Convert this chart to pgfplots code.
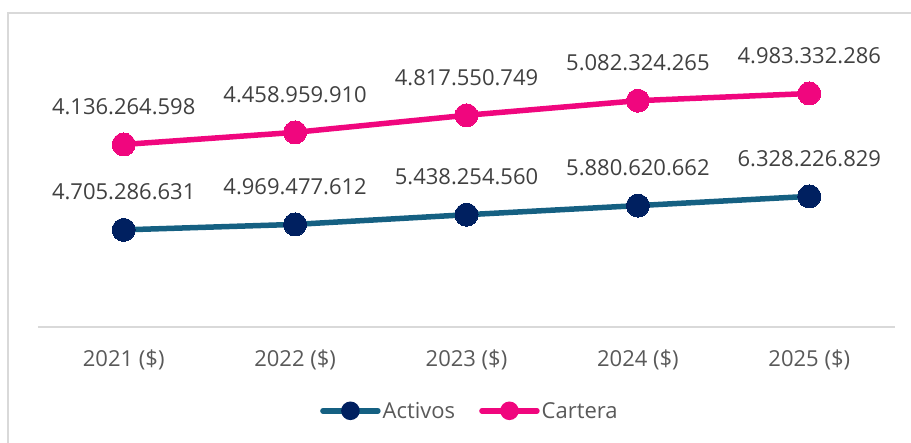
\documentclass[border=0pt]{standalone}
\usepackage{pgfplots}
\pgfplotsset{compat=1.18}
\usepackage{fontspec}
\setmainfont{Open Sans}
\definecolor{activosline}{HTML}{156082}
\definecolor{activosmark}{HTML}{002060}
\definecolor{cartera}{HTML}{F0067E}
\definecolor{lbl}{HTML}{404040}
\definecolor{axlbl}{HTML}{595959}
\definecolor{frame}{HTML}{D9D9D9}
\newcommand{\cf}{\fontsize{22}{26}\selectfont}
\begin{document}
\begin{tikzpicture}
\path[use as bounding box] (0pt,0pt) rectangle (911pt,443pt);
\draw[frame, line width=2pt] (8pt,0pt) -- (8pt,430pt) -- (911pt,430pt);
\begin{axis}[
  at={(38pt,116pt)}, anchor=south west,
  scale only axis, width=857pt, height=289pt,
  xmin=-0.5, xmax=4.5, ymin=0, ymax=14000000000,
  stack plots=y,
  clip=false,
  axis x line*=bottom, axis y line=none,
  x axis line style={frame, line width=1.5pt, -},
  xtick={0,1,2,3,4},
  xticklabels={2021 (\$),2022 (\$),2023 (\$),2024 (\$),2025 (\$)},
  major tick length=0pt,
  xticklabel style={font=\cf, text=axlbl, anchor=base, yshift=-40pt},
  point meta=explicit symbolic,
  nodes near coords,
  every node near coord/.append style={font=\cf, text=lbl, anchor=base, yshift=30pt},
  legend columns=2,
  legend style={draw=none, fill=none, at={(0.504,-0.29)}, anchor=center,
    font=\cf, text=axlbl, nodes={inner xsep=2pt},
    /tikz/every even column/.append style={column sep=22pt}},
  legend cell align=left,
]
\addplot[activosline, line width=5.5pt, mark=*, mark size=11.5pt,
  mark options={fill=activosmark, draw=activosmark, line width=0pt},
  legend image code/.code={\draw[activosline, line width=5.5pt, line cap=round] (0pt,0pt) -- (55pt,0pt);
    \fill[activosmark] (27.5pt,0pt) circle (6.5pt);}]
coordinates {
(0,4705286631) [4.705.286.631]
(1,4969477612) [4.969.477.612]
(2,5438254560) [5.438.254.560]
(3,5880620662) [5.880.620.662]
(4,6328226829) [6.328.226.829]
};
\addlegendentry{Activos}
\addplot[cartera, line width=5.5pt, mark=*, mark size=11.5pt,
  mark options={fill=cartera, draw=cartera, line width=0pt},
  legend image code/.code={\draw[cartera, line width=5.5pt, line cap=round] (0pt,0pt) -- (55pt,0pt);
    \fill[cartera] (27.5pt,0pt) circle (6.5pt);}]
coordinates {
(0,4136264598) [4.136.264.598]
(1,4458959910) [4.458.959.910]
(2,4817550749) [4.817.550.749]
(3,5082324265) [5.082.324.265]
(4,4983332286) [4.983.332.286]
};
\addlegendentry{Cartera}
\end{axis}
\end{tikzpicture}
\end{document}
